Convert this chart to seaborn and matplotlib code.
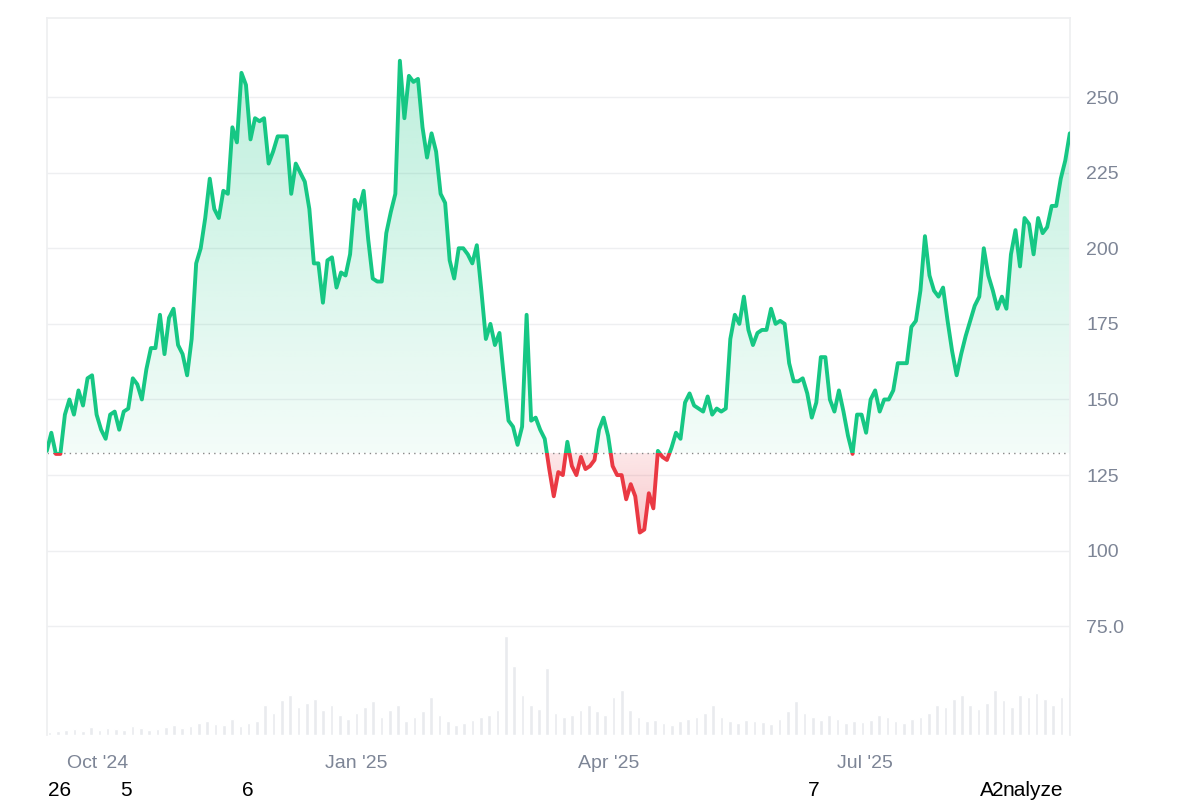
import numpy as np
import pandas as pd
import matplotlib.pyplot as plt
import matplotlib.dates as mdates
from matplotlib.patches import Rectangle
from matplotlib.path import Path
import seaborn as sns

sns.set_theme(style="white", font="Liberation Sans")

# Price series (roughly evenly spaced samples)
prices = [133, 139, 132, 132, 145, 150, 145, 153, 148, 157, 158, 145, 140, 137, 145, 146, 140, 146, 147,
          157, 155, 150, 160, 167, 167, 178, 165, 177, 180, 168, 165, 158, 170, 195, 200, 210, 223, 213,
          210, 219, 218, 240, 235, 258, 254, 236, 243, 242, 243, 228, 232, 237, 237, 237, 218, 228, 225,
          222, 213, 195, 195, 182, 196, 197, 187, 192, 191, 198, 216, 213, 219, 203, 190, 189, 189, 205,
          212, 218, 262, 243, 257, 255, 256, 240, 230, 238, 232, 218, 215, 196, 190, 200, 200, 198, 195,
          201, 186, 170, 175, 168, 172, 157, 143, 141, 135, 141, 178, 143, 144, 140, 137, 127, 118, 126,
          125, 136, 128, 125, 131, 127, 128, 130, 140, 144, 138, 128, 125, 125, 117, 122, 118, 106, 107,
          119, 114, 133, 131, 130, 134, 139, 137, 149, 152, 148, 147, 146, 151, 145, 147, 146, 147, 170,
          178, 175, 184, 173, 168, 172, 173, 173, 180, 175, 176, 175, 162, 156, 156, 157, 152, 144, 149,
          164, 164, 150, 146, 153, 146, 138, 132, 145, 145, 139, 150, 153, 146, 150, 150, 153, 162, 162,
          162, 174, 176, 186, 204, 191, 186, 184, 187, 176, 166, 158, 165, 171, 176, 181, 184, 200, 191,
          186, 180, 184, 180, 198, 206, 194, 210, 208, 198, 210, 205, 207, 214, 214, 223, 229, 238]
start_date, end_date = "2024-09-13", "2025-09-12"
baseline = 132.4

# Volume (relative units, ~every 3 days)
volume = [3, 4, 5, 6, 4, 8, 5, 7, 6, 5, 9, 7, 5, 6, 8, 10, 7, 9, 12, 14, 11, 10, 16, 9, 12, 14, 30, 22,
          35, 40, 28, 32, 36, 25, 30, 20, 16, 22, 28, 34, 18, 25, 30, 14, 18, 24, 38, 20, 14, 10, 12, 15,
          18, 20, 25, 100, 70, 40, 30, 26, 68, 22, 18, 20, 25, 30, 24, 20, 38, 45, 25, 18, 14, 15, 12, 10,
          14, 16, 18, 22, 30, 18, 14, 12, 15, 14, 13, 11, 16, 24, 34, 22, 18, 15, 20, 16, 12, 14, 13, 15,
          20, 18, 14, 12, 16, 18, 22, 30, 28, 36, 40, 30, 26, 32, 45, 35, 28, 40, 38, 42, 36, 30, 38, 48]
vol_start, vol_end = "2024-09-14", "2025-09-12"

dates = pd.date_range(start_date, end_date, periods=len(prices))
vdates = pd.date_range(vol_start, vol_end, periods=len(volume))
df = pd.DataFrame({"date": dates, "price": prices})

green, red = "#16c784", "#ea3943"

fig = plt.figure(figsize=(12, 8), dpi=100)
ax = fig.add_axes([0.039, 0.081, 0.8525, 0.896])
ymin, ymax = 39, 276

# volume on twin axis
vax = ax.twinx()
vax.bar(vdates, volume, width=1.3, color="#e9ebee")
vax.set_ylim(0, max(volume) * 7.2)
vax.axis("off")
ax.set_zorder(vax.get_zorder() + 1)
ax.patch.set_visible(False)

# gradient fills
xn = mdates.date2num(dates)
x0, x1 = xn[0], xn[-1]
p = np.array(prices, dtype=float)
fg = ax.fill_between(dates, p, baseline, where=p >= baseline, interpolate=True, color="none")
fr = ax.fill_between(dates, p, baseline, where=p <= baseline, interpolate=True, color="none")
grad_g = np.zeros((256, 2, 4))
grad_g[..., :3] = np.array([22, 199, 132]) / 255
grad_g[..., 3] = np.linspace(0.28, 0.05, 256)[:, None]
im = ax.imshow(grad_g, extent=[x0, x1, baseline, 262], origin="upper", aspect="auto", zorder=1)
im.set_clip_path(Path.make_compound_path(*fg.get_paths()), ax.transData)
grad_r = np.zeros((256, 2, 4))
grad_r[..., :3] = np.array([234, 57, 67]) / 255
grad_r[..., 3] = np.linspace(0.12, 0.3, 256)[:, None]
im2 = ax.imshow(grad_r, extent=[x0, x1, 104, baseline], origin="upper", aspect="auto", zorder=1)
im2.set_clip_path(Path.make_compound_path(*fr.get_paths()), ax.transData)

# price line, split around baseline
sns.lineplot(data=df, x="date", y="price", ax=ax, color=green, linewidth=2.8, zorder=3)
ax.lines[-1].set_clip_path(Rectangle((x0, baseline), x1 - x0, ymax, transform=ax.transData))
sns.lineplot(data=df, x="date", y="price", ax=ax, color=red, linewidth=2.8, zorder=3)
ax.lines[-1].set_clip_path(Rectangle((x0, ymin), x1 - x0, baseline - ymin, transform=ax.transData))
ax.axhline(baseline, color="#888888", linestyle=(0, (1, 3)), linewidth=1, zorder=2)
ax.set_xlim(dates[0], dates[-1])
ax.set_ylim(ymin, ymax)

# axes styling
yticks = [75, 100, 125, 150, 175, 200, 225, 250]
ylabels = ["75.0", "100", "125", "150", "175", "200", "225", "250"]
ax.yaxis.tick_right()
ax.set_yticks(yticks)
ax.set_yticklabels(ylabels)
ax.grid(axis="y", color="#eeeff1", linewidth=1)
ax.tick_params(axis="y", length=0, pad=12, labelsize=14, labelcolor="#7d8596")
xticks = pd.to_datetime(["2024-10-01", "2025-01-01", "2025-04-01", "2025-07-01"])
ax.set_xticks(xticks)
ax.set_xticklabels(["Oct '24", "Jan '25", "Apr '25", "Jul '25"])
ax.tick_params(axis="x", length=0, pad=14, labelsize=14, labelcolor="#7d8596")
ax.set_xlabel("")
ax.set_ylabel("")
for side, sp in ax.spines.items():
    sp.set_visible(side in ("left", "right", "top"))
    sp.set_color("#eeeff1")

# stray labels under the chart
for x, t in [(60, "26"), (126, "5"), (248, "6"), (814, "7"), (987, "A"), (998, "2")]:
    fig.text(x / 1200, 1 - 790 / 800, t, ha="center", va="center", fontsize=15, color="black")
fig.text(1033 / 1200, 1 - 790 / 800, "nalyze", ha="center", va="center", fontsize=15, color="black")

fig.savefig("out.png", dpi=100)
